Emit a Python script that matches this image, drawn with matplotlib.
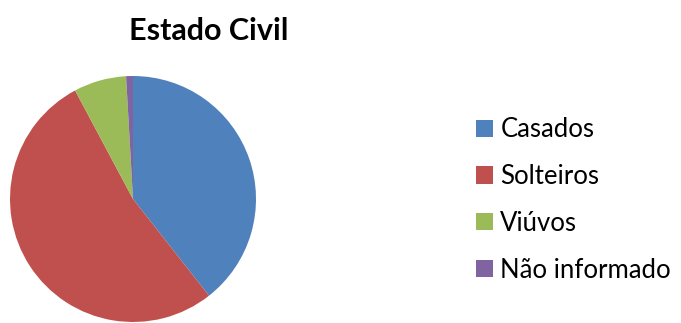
import matplotlib.pyplot as plt
from matplotlib.patches import Patch

# Dados (percentuais estimados)
categorias = ["Casados", "Solteiros", "Viúvos", "Não informado"]
valores = [39.4, 52.8, 6.9, 0.9]
cores = ["#4F81BD", "#C0504D", "#9BBB59", "#8064A2"]

W, H = 681, 323
fig = plt.figure(figsize=(W / 100, H / 100), dpi=100)
plt.rcParams['font.family'] = ['Lato', 'DejaVu Sans']

# pizza: centro (133, 199) px, raio 123 px
cx, cy, r = 133, 199, 123
ax = fig.add_axes([(cx - r) / W, (H - cy - r) / H, 2 * r / W, 2 * r / H])
ax.pie(valores, colors=cores, startangle=90, counterclock=False,
       wedgeprops=dict(linewidth=0))
ax.set_xlim(-1, 1)
ax.set_ylim(-1, 1)
ax.set_aspect("equal")
ax.axis("off")

fig.text(209 / W, 1 - 31 / H, "Estado Civil", ha="center", va="center",
         fontsize=22, fontweight="bold")

handles = [Patch(facecolor=c, edgecolor="none") for c in cores]
fig.legend(handles, categorias, loc="center left",
           bbox_to_anchor=(476 / W, 1 - 200 / H), frameon=False,
           borderpad=0, borderaxespad=0,
           fontsize=18.5, handlelength=0.65, handleheight=0.65,
           handletextpad=0.3, labelspacing=0.85)

fig.savefig("out.png", dpi=100)
